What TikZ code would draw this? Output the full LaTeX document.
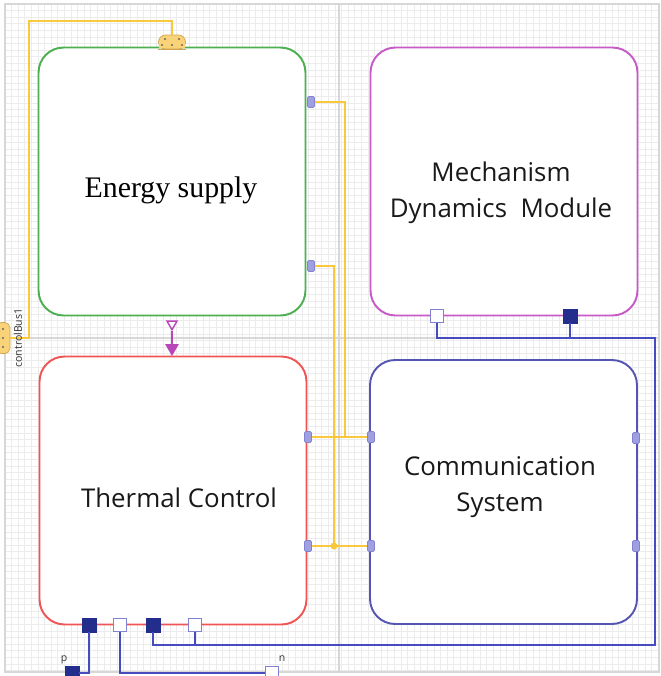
\documentclass[tikz,border=0pt]{standalone}
\usepackage{fontspec}
\setmainfont{Liberation Serif}
\setsansfont{Open Sans}
\usetikzlibrary{shapes.geometric}
\definecolor{gridgray}{RGB}{236,236,236}
\definecolor{majorgray}{RGB}{215,215,215}
\definecolor{esgreen}{RGB}{76,175,80}
\definecolor{mdmpink}{RGB}{200,90,200}
\definecolor{tcred}{RGB}{240,85,85}
\definecolor{csblue}{RGB}{85,85,180}
\definecolor{ywirecol}{RGB}{250,200,60}
\definecolor{bwirecol}{RGB}{70,75,190}
\definecolor{portfill}{RGB}{160,160,225}
\definecolor{portedge}{RGB}{130,130,210}
\definecolor{navy}{RGB}{35,45,140}
\definecolor{busfill}{RGB}{250,210,120}
\definecolor{busedge}{RGB}{205,165,80}
\definecolor{arrowpink}{RGB}{185,70,185}
\tikzset{
  block/.style={draw,line width=1.1pt,fill=white,rounded corners=0.5cm,
    minimum width=5.34cm,minimum height=5.36cm},
  title/.style={font=\sffamily\fontsize{14.7}{20.5}\selectfont,align=center,text=black!90},
  port/.style={draw=portedge,fill=portfill,rounded corners=0.8pt,
    minimum width=0.14cm,minimum height=0.22cm},
  pinfull/.style={draw=navy,fill=navy,minimum size=0.28cm},
  pinopen/.style={draw=portedge,fill=white,line width=0.9pt,minimum size=0.26cm},
  ywire/.style={draw=ywirecol,line width=1.2pt},
  bwire/.style={draw=bwirecol,line width=1.1pt},
  tiny/.style={font=\sffamily\fontsize{6}{7}\selectfont,text=black!80}
}
\begin{document}
\begin{tikzpicture}[x=0.02cm,y=-0.02cm,every node/.style={inner sep=0pt}]
        \useasboundingbox (0,0) rectangle (660,676);
        \clip (0,0) rectangle (660,676);
        % grid background
        \fill[white] (0,0) rectangle (660,676);
        \foreach \x in {5,11.6,...,659} \draw[gridgray,line width=0.4pt] (\x,4) -- (\x,672);
        \foreach \y in {4,10.6,...,672} \draw[gridgray,line width=0.4pt] (5,\y) -- (659,\y);
        \draw[majorgray,line width=0.6pt] (339,4) -- (339,672) (5,338) -- (659,338);
        \draw[majorgray,line width=0.8pt] (5,4) rectangle (659,672);
        % blocks
        \node (es)  [block,draw=esgreen]  at (172,181.5) {};
        \node (mdm) [block,draw=mdmpink]  at (504,181.5) {};
        \node (tc)  [block,draw=tcred]    at (173,490.5) {};
        \node (cs)  [block,draw=csblue,minimum height=5.28cm] at (503.5,492) {};
        \node (es-txt)  [font=\fontsize{17}{20}\selectfont] at (171,190) {Energy supply};
        \node (mdm-txt) [title] at (501,193) {Mechanism\\Dynamics\ \ Module};
        \node (tc-txt)  [title] at (179,498) {Thermal Control};
        \node (cs-txt)  [title] at (500,487) {Communication\\System};
        % bus connectors
        \node (bus)  [draw=busedge,fill=busfill,rounded corners=4pt,minimum width=0.54cm,minimum height=0.28cm] at (172,42) {};
        \fill[busfill] ([shift={(1,0)}]bus.west) rectangle ([shift={(-1,-1)}]bus.south east);
        \draw[busedge] (bus.south west) -- (bus.south east);
        \node (bus1) [draw=busedge,fill=busfill,rounded corners=3pt,minimum width=0.28cm,minimum height=0.62cm] at (3,338) {};
        \foreach \dx/\dy in {-7/-3,7/-3,-10/3,0/3,10/3}
            \fill[black!60] ([shift={(\dx,\dy)}]bus.center) circle (0.6pt);
        \foreach \dy in {-9,0,9}
            \fill[black!60] ([shift={(0,\dy)}]bus1.center) circle (0.6pt);
        \draw[ywire] (bus1.east) -| (29,21) -| (bus.north);
        \node (bus1-lbl) [tiny,rotate=90] at (18,338) {controlBus1};
        % ports
        \node (es-p1) [port] at (311,102) {};
        \node (es-p2) [port] at (311,266) {};
        \node (tc-p1) [port] at (308,437) {};
        \node (tc-p2) [port] at (308,546) {};
        \node (cs-p1) [port] at (371,437) {};
        \node (cs-p2) [port] at (371,546) {};
        \node (cs-p3) [port] at (636,438) {};
        \node (cs-p4) [port] at (636,546) {};
        \coordinate (j1) at (345,437);
        \coordinate (j2) at (334,546);
        \draw[ywire] (tc-p1.east) -- (cs-p1.west);
        \draw[ywire] (tc-p2.east) -- (cs-p2.west);
        \draw[ywire] (es-p1.east) -| (j1);
        \draw[ywire] (es-p2.east) -| (j2);
        \fill[ywirecol] (j2) circle (2pt);
        % heat flow arrow
        \node (es-out) [regular polygon,regular polygon sides=3,shape border rotate=180,draw=arrowpink,fill=white,line width=0.8pt,minimum size=0.23cm] at (172,324) {};
        \node (tc-in)  [regular polygon,regular polygon sides=3,shape border rotate=180,fill=arrowpink,minimum size=0.32cm] at (172,348) {};
        \draw[arrowpink,line width=1.1pt] (es-out.south) -- (tc-in.north);
        % electrical pins
        \node (tc-q1)  [pinfull] at (89,625) {};
        \node (tc-q2)  [pinopen] at (120,625) {};
        \node (tc-q3)  [pinfull] at (153,625) {};
        \node (tc-q4)  [pinopen] at (195,625) {};
        \node (mdm-q1) [pinopen] at (437,316) {};
        \node (mdm-q2) [pinfull] at (570,316) {};
        \node (pin-p)  [pinfull] at (72,673) {};
        \node (pin-n)  [pinopen] at (272,673) {};
        \node (p-lbl)  [tiny] at (64,660) {p};
        \node (n-lbl)  [tiny] at (282,659) {n};
        \coordinate (c1) at (655,645);
        \coordinate (c2) at (655,338);
        \draw[bwire] (tc-q3.south) |- (c1) -- (c2) -| (mdm-q1.south);
        \draw[bwire] (tc-q4.south) -- (tc-q4 |- c1);
        \draw[bwire] (mdm-q2.south) -- (mdm-q2 |- c2);
        \draw[bwire] (tc-q1.south) |- (pin-p.east);
        \draw[bwire] (tc-q2.south) |- (pin-n.west);
    \end{tikzpicture}
\end{document}
